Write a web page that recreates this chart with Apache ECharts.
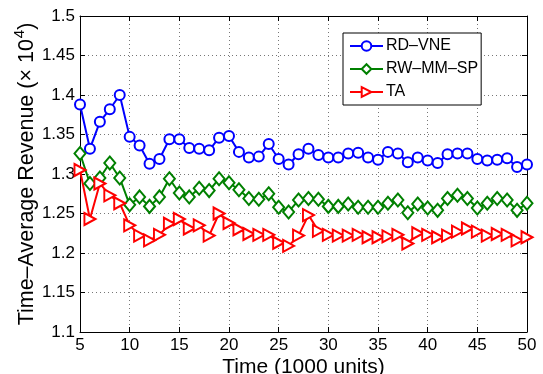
<!DOCTYPE html>
<html>
<head>
<meta charset="utf-8">
<script src="https://cdn.jsdelivr.net/npm/echarts@6/dist/echarts.min.js"></script>
<style>
html,body{margin:0;padding:0;background:#fff;}
#chart{width:543px;height:374px;}
</style>
</head>
<body>
<div id="chart"></div>
<script>
var times = [5,6,7,8,9,10,11,12,13,14,15,16,17,18,19,20,21,22,23,24,25,26,27,28,29,30,31,32,33,34,35,36,37,38,39,40,41,42,43,44,45,46,47,48,49,50];
var rdVne = [1.388,1.332,1.366,1.382,1.400,1.347,1.336,1.313,1.319,1.344,1.344,1.333,1.332,1.330,1.346,1.348,1.328,1.321,1.322,1.338,1.319,1.312,1.325,1.332,1.324,1.321,1.321,1.326,1.327,1.321,1.318,1.328,1.326,1.315,1.321,1.317,1.314,1.325,1.326,1.326,1.319,1.317,1.318,1.320,1.309,1.312];
var rwMmSp = [1.326,1.288,1.295,1.314,1.295,1.261,1.271,1.259,1.271,1.294,1.276,1.271,1.282,1.279,1.294,1.289,1.280,1.269,1.268,1.275,1.258,1.252,1.267,1.269,1.268,1.259,1.259,1.262,1.258,1.258,1.258,1.263,1.267,1.251,1.262,1.257,1.254,1.269,1.273,1.269,1.257,1.263,1.269,1.267,1.254,1.263];
var ta = [1.305,1.243,1.288,1.273,1.263,1.235,1.222,1.216,1.223,1.237,1.243,1.231,1.235,1.222,1.250,1.238,1.230,1.224,1.223,1.223,1.213,1.209,1.222,1.248,1.228,1.223,1.222,1.222,1.223,1.220,1.220,1.221,1.223,1.212,1.225,1.223,1.220,1.222,1.227,1.231,1.227,1.222,1.224,1.223,1.216,1.220];
var seriesNames = ['RD–VNE','RW–MM–SP','TA'];
var xTitle = 'Time (1000 units)';
var yTitle = 'Time–Average Revenue (× 10{sup|4})';

var FONT = "'Liberation Sans', Arial, Helvetica, sans-serif";
function pairs(arr){ return times.map(function(t,i){ return [t, arr[i]]; }); }

var chart = echarts.init(document.getElementById('chart'), null, {renderer:'canvas'});
var dotted = {type:[1,3], color:'#777', width:1};
chart.setOption({
  animation:false,
  backgroundColor:'#fff',
  textStyle:{fontFamily:FONT},
  grid:{left:80, right:16, top:16, bottom:42, show:false, containLabel:false, outerBoundsMode:'none'},
  legend:{
    orient:'vertical', left:343, top:33,
    backgroundColor:'#fff', borderColor:'#000', borderWidth:1, borderRadius:0,
    padding:[5,3,5,6], itemWidth:33, itemHeight:12, itemGap:7,
    textStyle:{fontFamily:FONT, fontSize:16, color:'#000', padding:[0,0,0,-2]},
    data:seriesNames
  },
  xAxis:[{
    type:'value', min:5, max:50, interval:5,
    name:xTitle, nameLocation:'middle', nameGap:25, nameMoveOverlap:false,
    nameTextStyle:{fontSize:21, color:'#000', fontFamily:FONT},
    axisLine:{show:true, lineStyle:{color:'#000', width:1}},
    axisTick:{show:true, inside:true, length:5, lineStyle:{color:'#000'}},
    axisLabel:{color:'#000', fontSize:17, margin:5, fontFamily:FONT},
    splitLine:{show:true, lineStyle:dotted}
  },{
    type:'value', position:'top', min:5, max:50, interval:5,
    axisLine:{show:true, lineStyle:{color:'#000', width:1}},
    axisTick:{show:true, inside:true, length:5, lineStyle:{color:'#000'}},
    axisLabel:{show:false}, splitLine:{show:false}
  }],
  yAxis:[{
    type:'value', min:1.1, max:1.5, interval:0.05,
    name:yTitle, nameLocation:'middle', nameGap:38, nameRotate:90, nameMoveOverlap:false,
    nameTextStyle:{fontSize:21.5, color:'#000', fontFamily:FONT, lineHeight:30,
      rich:{sup:{fontSize:15, fontFamily:FONT, color:'#000', verticalAlign:'top', lineHeight:14, padding:[0,0,0,1]}}},
    axisLine:{show:true, lineStyle:{color:'#000', width:1}},
    axisTick:{show:true, inside:true, length:5, lineStyle:{color:'#000'}},
    axisLabel:{color:'#000', fontSize:17, margin:5, fontFamily:FONT,
      formatter:function(v){ return String(parseFloat(v.toFixed(2))); }},
    splitLine:{show:true, lineStyle:dotted}
  },{
    type:'value', position:'right', min:1.1, max:1.5, interval:0.05,
    axisLine:{show:true, lineStyle:{color:'#000', width:1}},
    axisTick:{show:true, inside:true, length:5, lineStyle:{color:'#000'}},
    axisLabel:{show:false}, splitLine:{show:false}
  }],
  series:[{
    name:seriesNames[0], type:'line', data:pairs(rdVne),
    symbol:'emptyCircle', symbolSize:10,
    lineStyle:{color:'#0000ff', width:2},
    itemStyle:{color:'#0000ff', borderColor:'#0000ff', borderWidth:2}
  },{
    name:seriesNames[1], type:'line', data:pairs(rwMmSp),
    symbol:'emptyDiamond', symbolSize:[11,13],
    lineStyle:{color:'#008000', width:2},
    itemStyle:{color:'#008000', borderColor:'#008000', borderWidth:2}
  },{
    name:seriesNames[2], type:'line', data:pairs(ta),
    symbol:'emptyTriangle', symbolSize:[12,11], symbolRotate:-90,
    lineStyle:{color:'#ff0000', width:2},
    itemStyle:{color:'#ff0000', borderColor:'#ff0000', borderWidth:2}
  }]
});
</script>
</body>
</html>
